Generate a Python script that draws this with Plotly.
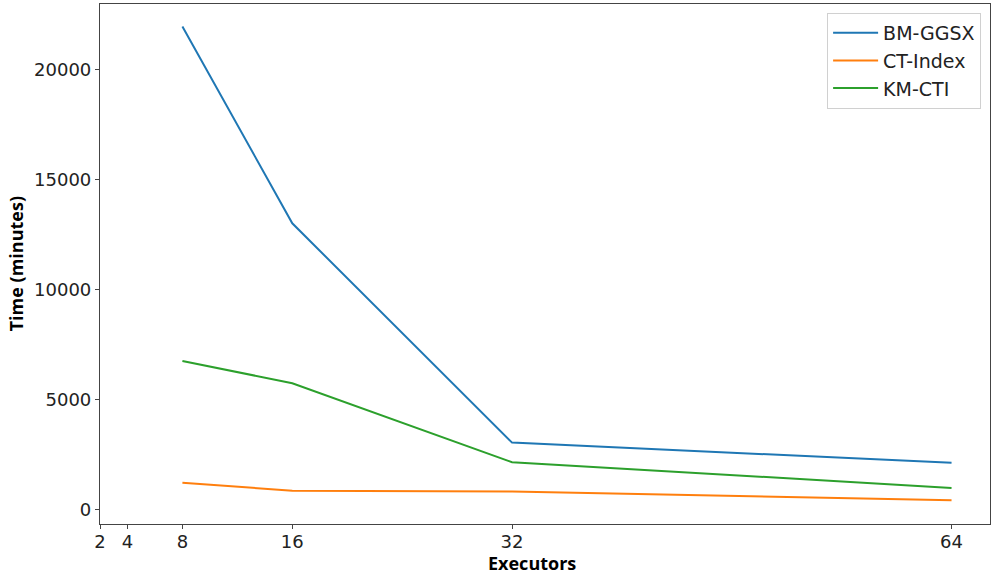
import plotly.graph_objects as go

executors = [8, 16, 32, 64]
tick_vals = [2, 4, 8, 16, 32, 64]
y_ticks = [0, 5000, 10000, 15000, 20000]
bm_ggsx = [21950, 13000, 3030, 2110]
ct_index = [1210, 840, 810, 410]
km_cti = [6740, 5730, 2140, 970]

series = [
    ("BM-GGSX", bm_ggsx, "#1f77b4"),
    ("CT-Index", ct_index, "#ff7f0e"),
    ("KM-CTI", km_cti, "#2ca02c"),
]

fig = go.Figure()
for name, vals, color in series:
    fig.add_trace(go.Scatter(x=executors, y=vals, mode="lines", name=name,
                             line=dict(color=color, width=2)))

tick_font = dict(family="DejaVu Sans", size=18, color="#222")
label_font = dict(family="Open Sans", size=18, color="#000", weight="bold")

fig.update_layout(
    width=994, height=576,
    margin=dict(l=100, r=4, t=4, b=52),
    paper_bgcolor="white", plot_bgcolor="white",
    showlegend=True,
    legend=dict(x=0.99, y=0.983, xanchor="right", yanchor="top",
                bgcolor="white", bordercolor="#d0d0d0", borderwidth=1,
                font=dict(family="DejaVu Sans", size=19, color="#222"),
                itemwidth=45, tracegroupgap=4),
    xaxis=dict(range=[2, 66.8], tickmode="array", tickvals=tick_vals,
               ticktext=[str(v) for v in tick_vals],
               showgrid=False, zeroline=False, showline=True, mirror=True,
               linecolor="#444", linewidth=1.2, ticks="outside", ticklen=4,
               tickcolor="#444", tickfont=tick_font, ticklabelstandoff=-3),
    yaxis=dict(range=[-670, 22970], tickmode="array",
               tickvals=y_ticks, ticktext=[str(v) for v in y_ticks],
               showgrid=False, zeroline=False, showline=True, mirror=True,
               linecolor="#444", linewidth=1.2, ticks="outside", ticklen=4,
               tickcolor="#444", tickfont=tick_font),
    annotations=[
        dict(text="Executors", xref="paper", yref="paper",
             x=0.4857, y=-0.075, xanchor="center", yanchor="middle",
             showarrow=False, font=label_font),
        dict(text="Time (minutes)", xref="paper", yref="paper",
             x=-0.094, y=0.5, xanchor="center", yanchor="middle",
             textangle=-90, showarrow=False, font=label_font),
    ],
)

fig.write_html("out.html")
